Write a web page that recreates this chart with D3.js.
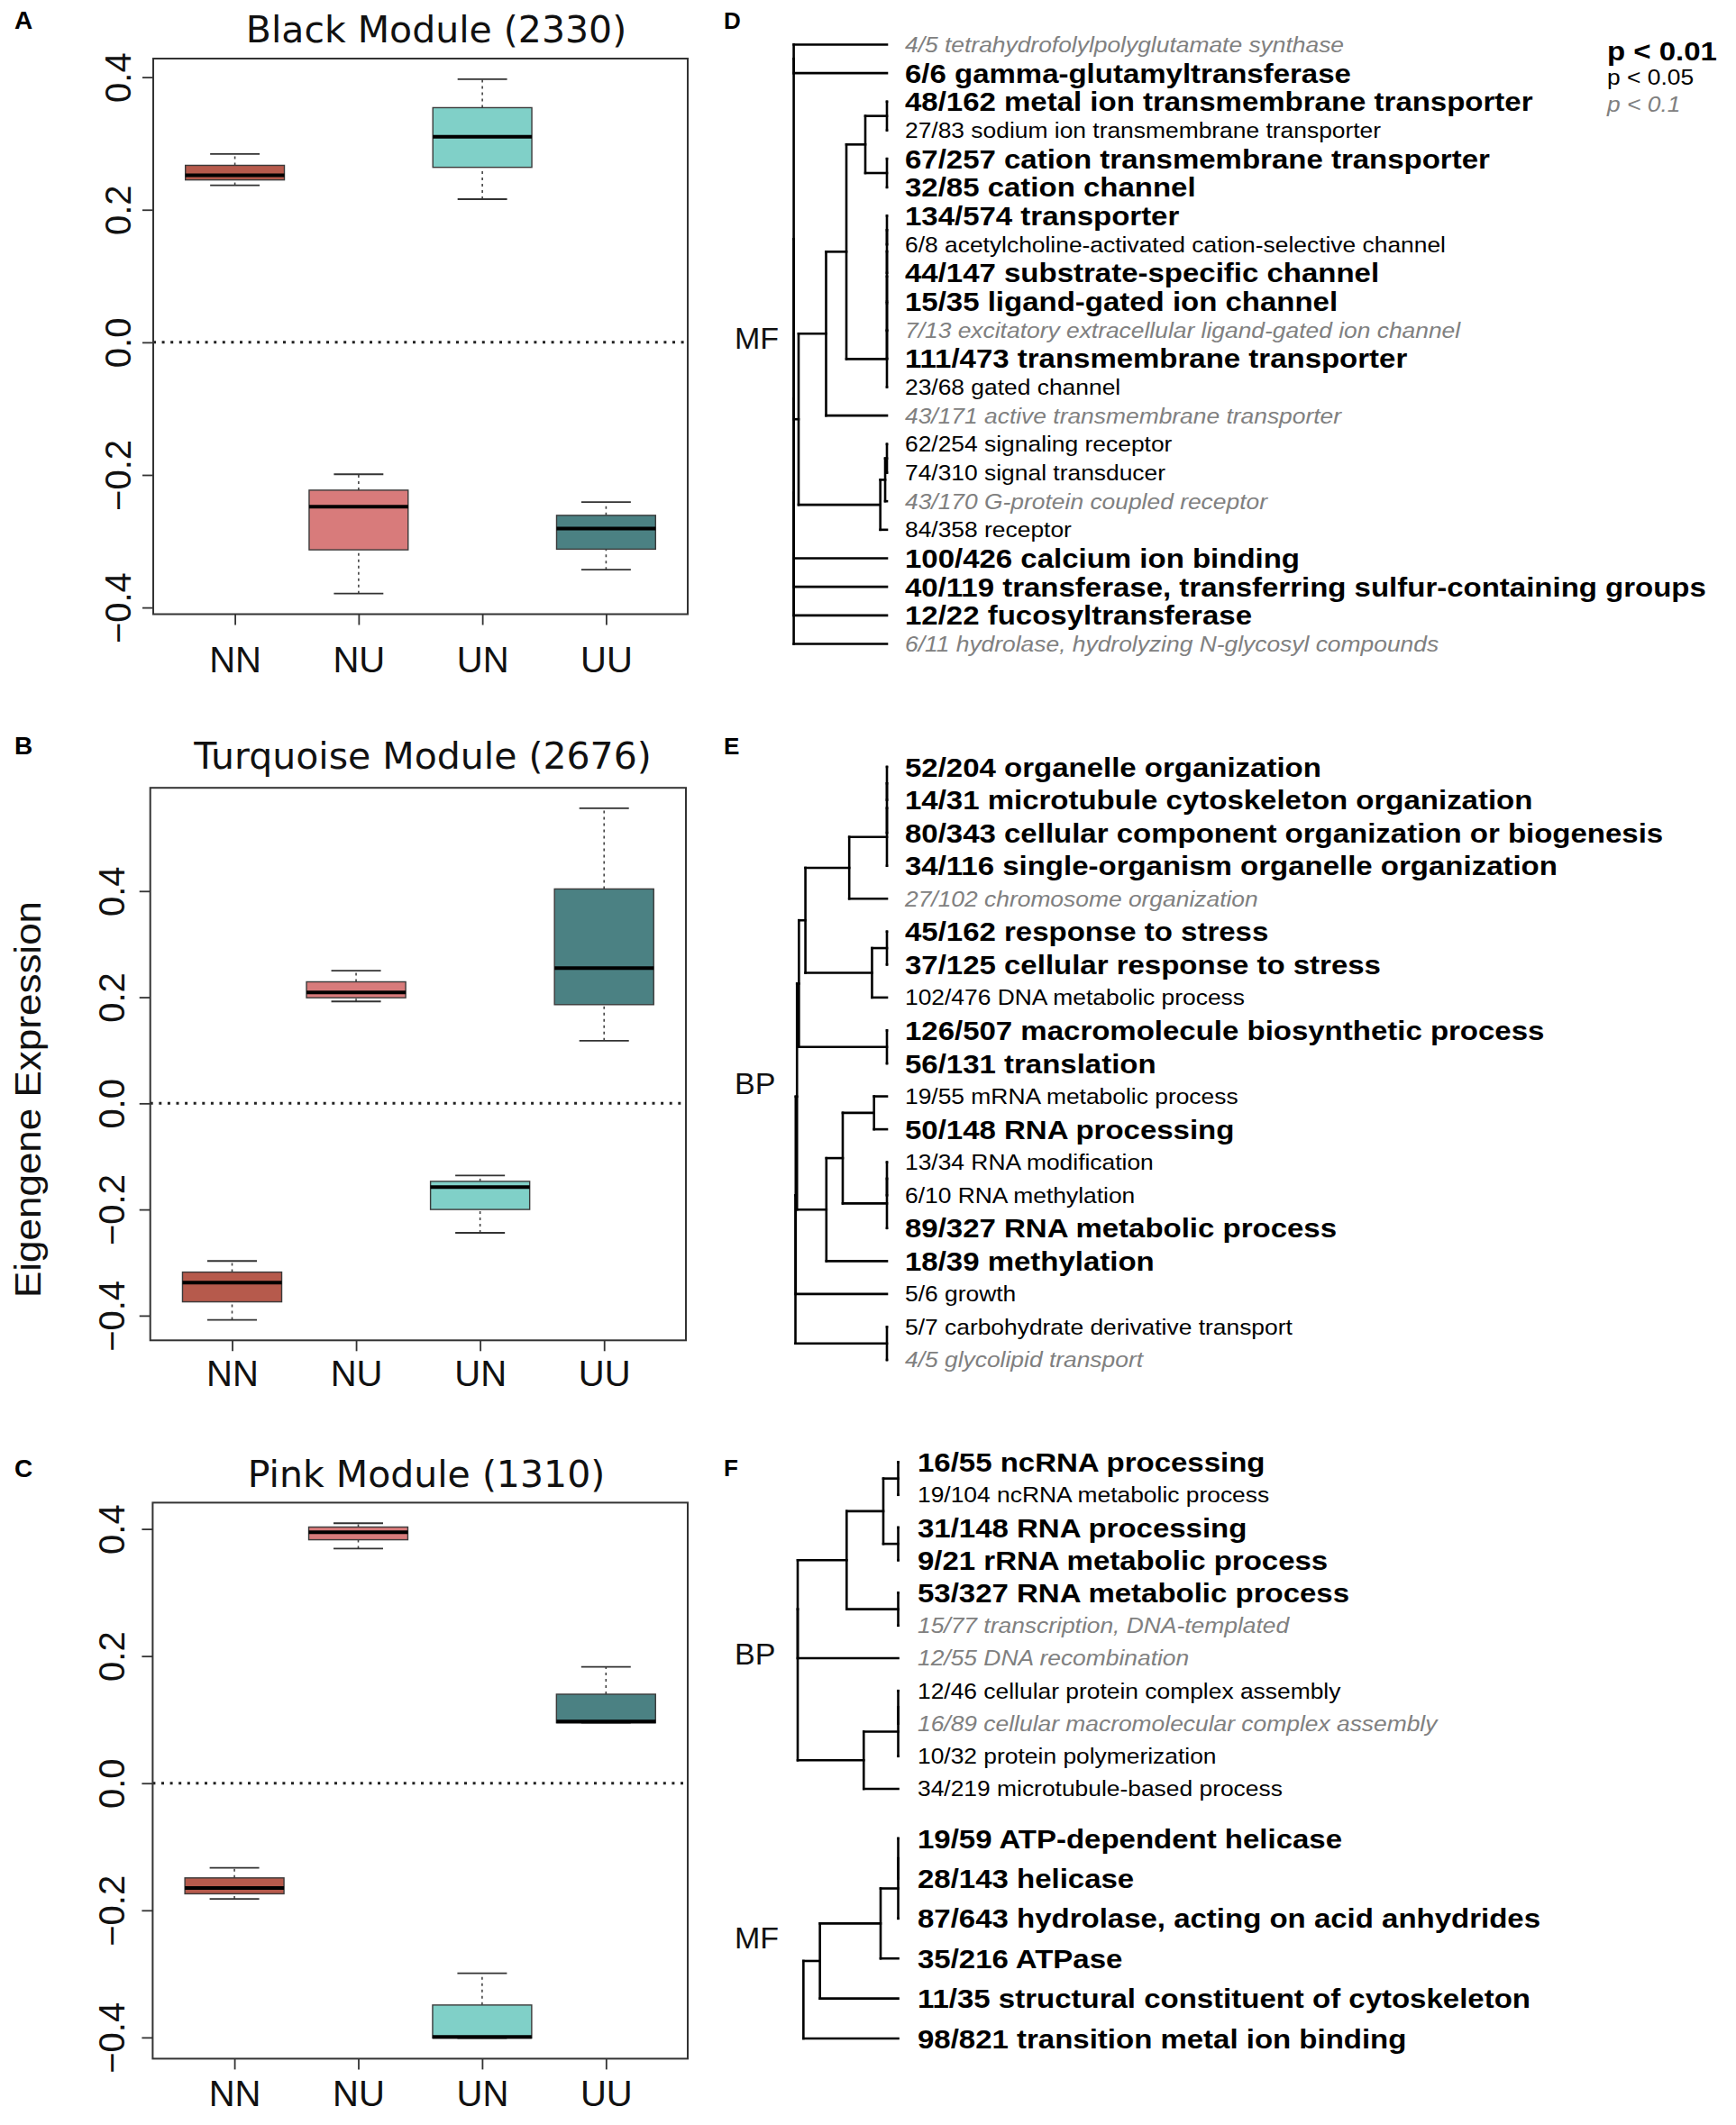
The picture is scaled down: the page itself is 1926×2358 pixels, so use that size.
<!DOCTYPE html>
<html><head><meta charset="utf-8">
<script src="https://cdn.jsdelivr.net/npm/d3@7"></script>
<style>body{margin:0;background:#fff} svg{display:block}</style>
</head><body>
<svg id="fig" width="1926" height="2358"></svg>
<script>
// ---------------- DATA ----------------
const groups = ["NN", "NU", "UN", "UU"];
const groupColors = ["#b65a4c", "#d87b7b", "#80d0c8", "#4b8183"];
// five-number summaries per group: [min, q1, median, q3, max]
const blackModule = [
  [0.237, 0.245, 0.252, 0.267, 0.284],
  [-0.379, -0.313, -0.248, -0.223, -0.199],
  [0.216, 0.264, 0.310, 0.354, 0.397],
  [-0.343, -0.312, -0.281, -0.261, -0.241]
];
const turquoiseModule = [
  [-0.408, -0.374, -0.338, -0.318, -0.297],
  [0.192, 0.199, 0.209, 0.229, 0.250],
  [-0.244, -0.200, -0.158, -0.147, -0.136],
  [0.118, 0.186, 0.255, 0.404, 0.556]
];
const pinkModule = [
  [-0.182, -0.174, -0.165, -0.149, -0.133],
  [0.369, 0.383, 0.395, 0.403, 0.409],
  [-0.401, -0.401, -0.399, -0.349, -0.299],
  [0.095, 0.095, 0.097, 0.140, 0.183]
];
const yTicks = [-0.4, -0.2, 0.0, 0.2, 0.4];
const moduleTitles = ["Black Module (2330)", "Turquoise Module (2676)", "Pink Module (1310)"];
const yAxisTitle = "Eigengene Expression";

// GO term dendrograms; significance class: 1 = p<0.01, 2 = p<0.05, 3 = p<0.1
const legendLabels = ["p < 0.01", "p < 0.05", "p < 0.1"];
const legendClass = [1, 2, 3];

const termsD = [
  "4/5 tetrahydrofolylpolyglutamate synthase", "6/6 gamma-glutamyltransferase",
  "48/162 metal ion transmembrane transporter", "27/83 sodium ion transmembrane transporter",
  "67/257 cation transmembrane transporter", "32/85 cation channel", "134/574 transporter",
  "6/8 acetylcholine-activated cation-selective channel", "44/147 substrate-specific channel",
  "15/35 ligand-gated ion channel", "7/13 excitatory extracellular ligand-gated ion channel",
  "111/473 transmembrane transporter", "23/68 gated channel", "43/171 active transmembrane transporter",
  "62/254 signaling receptor", "74/310 signal transducer", "43/170 G-protein coupled receptor",
  "84/358 receptor", "100/426 calcium ion binding",
  "40/119 transferase, transferring sulfur-containing groups", "12/22 fucosyltransferase",
  "6/11 hydrolase, hydrolyzing N-glycosyl compounds"
];
const sigD = [3,1,1,2,1,1,1,2,1,1,3,1,2,3,2,2,3,2,1,1,1,3];
// merge tree: [height, childA, childB]; leaves are term indices; height 0 = leaves, 1 = root
const treeD = [1, [1, [1, [1, [1, [1, 0, 1],
  [0.948,
    [0.653,
      [0.435,
        [0.232, [0, 2, 3], [0, 4, 5]],
        [0, [0, [0, [0, [0, [0, 6, 7], 8], 9], 10], 11], 12]],
      13],
    [0.071, [0.019, [0, 14, 15], 16], 17]]],
  18], 19], 20], 21];

const termsE = [
  "52/204 organelle organization", "14/31 microtubule cytoskeleton organization",
  "80/343 cellular component organization or biogenesis", "34/116 single-organism organelle organization",
  "27/102 chromosome organization", "45/162 response to stress", "37/125 cellular response to stress",
  "102/476 DNA metabolic process", "126/507 macromolecule biosynthetic process", "56/131 translation",
  "19/55 mRNA metabolic process", "50/148 RNA processing", "13/34 RNA modification",
  "6/10 RNA methylation", "89/327 RNA metabolic process", "18/39 methylation", "5/6 growth",
  "5/7 carbohydrate derivative transport", "4/5 glycolipid transport"
];
const sigE = [1,1,1,1,3,1,1,2,1,1,2,1,2,2,1,1,2,2,3];
const treeE = [1,
  [0.997,
    [0.983,
      [0.962,
        [0.891,
          [0.412, [0, [0, [0, 0, 1], 2], 3], 4],
          [0.163, [0, 5, 6], 7]],
        [0, 8, 9]],
      [0.662, [0.483, [0.141, 10, 11], [0, [0, 12, 13], 14]], 15]],
    16],
  [0, 17, 18]];

const termsFbp = [
  "16/55 ncRNA processing", "19/104 ncRNA metabolic process", "31/148 RNA processing",
  "9/21 rRNA metabolic process", "53/327 RNA metabolic process", "15/77 transcription, DNA-templated",
  "12/55 DNA recombination", "12/46 cellular protein complex assembly",
  "16/89 cellular macromolecular complex assembly", "10/32 protein polymerization",
  "34/219 microtubule-based process"
];
const sigFbp = [1,2,1,1,1,3,3,2,3,2,2];
const treeFbp = [1,
  [1, [0.513, [0.148, [0, 0, 1], [0, 2, 3]], [0, 4, 5]], 6],
  [0.343, [0, [0, 7, 8], 9], 10]];

const termsFmf = [
  "19/59 ATP-dependent helicase", "28/143 helicase", "87/643 hydrolase, acting on acid anhydrides",
  "35/216 ATPase", "11/35 structural constituent of cytoskeleton", "98/821 transition metal ion binding"
];
const sigFmf = [1,1,1,1,1,1];
const treeFmf = [0.943, [0.779, [0.175, [0, [0, 0, 1], 2], 3], 4], 5];

// ---------------- DRAWING ----------------
const svg = d3.select("#fig");
const SANS = "'Liberation Sans', Arial, Helvetica, sans-serif";
const TITLEF = "'DejaVu Sans', Verdana, sans-serif";

function panelLetter(txt, x, y, size) {
  svg.append("text").attr("x", x).attr("y", y).text(txt)
    .attr("font-family", SANS).attr("font-weight", "bold").attr("font-size", size).attr("fill", "#000");
}

function boxPanel(stats, title, cfg) {
  const g = svg.append("g");
  const lo = d3.min(stats, s => s[0]), hi = d3.max(stats, s => s[4]);
  const pad = (hi - lo) * 0.04;
  const y = d3.scaleLinear().domain([lo - pad, hi + pad]).range([cfg.bottom, cfg.top]);
  const x = d3.scaleLinear().domain([0.5 - 0.16, groups.length + 0.5 + 0.16]).range([cfg.left, cfg.right]);

  // title
  g.append("text").attr("x", cfg.titleX).attr("y", cfg.titleY).attr("text-anchor", "middle")
    .attr("font-family", TITLEF).attr("font-size", 41).attr("fill", "#111").text(title);

  // zero line
  g.append("line").attr("x1", x.range()[0]).attr("x2", x.range()[1]).attr("y1", y(0)).attr("y2", y(0))
    .attr("stroke", "#222").attr("stroke-width", 3).attr("stroke-dasharray", "3,6.6");

  const bw = 0.4, cw = 0.2;
  const items = g.selectAll("g.box").data(stats).join("g").attr("class", "box");
  // whiskers (dashed)
  items.append("line").attr("x1", (d, i) => x(i + 1)).attr("x2", (d, i) => x(i + 1))
    .attr("y1", d => y(d[3])).attr("y2", d => y(d[4]))
    .attr("stroke", "#444").attr("stroke-width", 1.6).attr("stroke-dasharray", "3,4");
  items.append("line").attr("x1", (d, i) => x(i + 1)).attr("x2", (d, i) => x(i + 1))
    .attr("y1", d => y(d[0])).attr("y2", d => y(d[1]))
    .attr("stroke", "#444").attr("stroke-width", 1.6).attr("stroke-dasharray", "3,4");
  // caps
  items.append("line").attr("x1", (d, i) => x(i + 1 - cw)).attr("x2", (d, i) => x(i + 1 + cw))
    .attr("y1", d => y(d[4])).attr("y2", d => y(d[4])).attr("stroke", "#333").attr("stroke-width", 1.8);
  items.append("line").attr("x1", (d, i) => x(i + 1 - cw)).attr("x2", (d, i) => x(i + 1 + cw))
    .attr("y1", d => y(d[0])).attr("y2", d => y(d[0])).attr("stroke", "#333").attr("stroke-width", 1.8);
  // box
  items.append("rect").attr("x", (d, i) => x(i + 1 - bw)).attr("width", (d, i) => x(i + 1 + bw) - x(i + 1 - bw))
    .attr("y", d => y(d[3])).attr("height", d => Math.max(0.5, y(d[1]) - y(d[3])))
    .attr("fill", (d, i) => groupColors[i]).attr("stroke", "#3a3a3a").attr("stroke-width", 1.4);
  // median
  items.append("line").attr("x1", (d, i) => x(i + 1 - bw)).attr("x2", (d, i) => x(i + 1 + bw))
    .attr("y1", d => y(d[2])).attr("y2", d => y(d[2])).attr("stroke", "#000").attr("stroke-width", 4);

  // frame
  g.append("rect").attr("x", x.range()[0]).attr("y", cfg.top)
    .attr("width", x.range()[1] - x.range()[0]).attr("height", cfg.bottom - cfg.top)
    .attr("fill", "none").attr("stroke", "#333").attr("stroke-width", 2);

  // y axis
  const fmt = d3.format(".1f");
  const ya = g.append("g").attr("transform", `translate(${x.range()[0]},0)`)
    .call(d3.axisLeft(y).tickValues(yTicks).tickFormat(fmt).tickSize(12));
  ya.select(".domain").remove();
  ya.selectAll(".tick line").attr("stroke", "#333").attr("stroke-width", 1.8);
  ya.selectAll(".tick text").attr("x", null).attr("dy", null)
    .attr("transform", `translate(${-cfg.yLabOff},0) rotate(-90)`)
    .attr("text-anchor", "middle").attr("font-family", SANS).attr("font-size", 40).attr("fill", "#111");

  // x axis
  const xa = g.append("g").attr("transform", `translate(0,${cfg.bottom})`)
    .call(d3.axisBottom(x).tickValues(d3.range(1, groups.length + 1)).tickFormat((d, i) => groups[i]).tickSize(12));
  xa.select(".domain").remove();
  xa.selectAll(".tick line").attr("stroke", "#333").attr("stroke-width", 1.8);
  xa.selectAll(".tick text").attr("y", cfg.labelY - cfg.bottom).attr("dy", null)
    .attr("font-family", SANS).attr("font-size", 40).attr("fill", "#111");
}

boxPanel(blackModule, moduleTitles[0],
  {left: 170, right: 763, top: 65, bottom: 681.5, titleX: 484, titleY: 46.5, labelY: 746, yLabOff: 25});
boxPanel(turquoiseModule, moduleTitles[1],
  {left: 166.7, right: 761, top: 874.2, bottom: 1487.3, titleX: 469, titleY: 852.5, labelY: 1537.6, yLabOff: 28.7});
boxPanel(pinkModule, moduleTitles[2],
  {left: 169.4, right: 763, top: 1667.4, bottom: 2284.4, titleX: 473, titleY: 1649.7, labelY: 2336.8, yLabOff: 31});

svg.append("text").attr("transform", "translate(45,1220) rotate(-90) scale(1.1,1)")
  .attr("text-anchor", "middle").attr("font-family", SANS).attr("font-size", 40).attr("fill", "#111")
  .text(yAxisTitle);

panelLetter("A", 16, 32, 28);
panelLetter("B", 16, 837, 28);
panelLetter("C", 16, 1639, 28);
panelLetter("D", 803, 32, 26);
panelLetter("E", 803, 837, 26);
panelLetter("F", 803, 1638, 26);

// ----- dendrogram text style by significance class -----
function styleText(sel, cls) {
  sel.attr("font-family", SANS)
    .attr("font-size", cls === 1 ? 30 : 24)
    .attr("font-weight", cls === 1 ? "bold" : "normal")
    .attr("font-style", cls === 3 ? "italic" : "normal")
    .attr("fill", cls === 3 ? "#808080" : "#000");
}

function drawTree(tree, terms, sig, cfg) {
  const g = svg.append("g");
  const row = d3.scaleLinear().domain([0, terms.length - 1]).range([cfg.y0, cfg.y1]);
  const hx = d3.scaleLinear().domain([0, 1]).range([cfg.leafX, cfg.rootX]);
  const root = d3.hierarchy(tree, d => Array.isArray(d) ? d.slice(1) : null);
  root.eachAfter(n => {
    if (n.children) { n.py = d3.mean(n.children, c => c.py); n.px = hx(n.data[0]); }
    else { n.py = row(n.data); n.px = cfg.leafX; }
  });
  const segs = [];
  root.each(n => {
    if (!n.children) return;
    const ys = n.children.map(c => c.py);
    segs.push([n.px, d3.min(ys), n.px, d3.max(ys)]);
    n.children.forEach(c => segs.push([n.px, c.py, c.px, c.py]));
  });
  g.selectAll("line").data(segs).join("line")
    .attr("x1", d => d[0]).attr("y1", d => d[1]).attr("x2", d => d[2]).attr("y2", d => d[3])
    .attr("stroke", "#000").attr("stroke-width", 2.6).attr("stroke-linecap", "square");
  g.selectAll("text").data(terms).join("text")
    .attr("transform", (d, i) => `translate(${cfg.textX},${row(i)}) scale(1.1,1)`)
    .attr("dy", "0.35em").text(d => d)
    .each(function (d, i) { styleText(d3.select(this), sig[i]); });
  if (cfg.group) {
    g.append("text").attr("x", 815).attr("y", cfg.groupY).attr("dy", "0.36em")
      .attr("font-family", SANS).attr("font-size", 34).attr("fill", "#111").text(cfg.group);
  }
}

drawTree(treeD, termsD, sigD, {leafX: 984, rootX: 880.6, textX: 1004, y0: 49.5, y1: 714.5, group: "MF", groupY: 375});
drawTree(treeE, termsE, sigE, {leafX: 984, rootX: 882.5, textX: 1004, y0: 851, y1: 1509, group: "BP", groupY: 1202});
drawTree(treeFbp, termsFbp, sigFbp, {leafX: 996.5, rootX: 885, textX: 1018, y0: 1622.5, y1: 1985, group: "BP", groupY: 1835});
drawTree(treeFmf, termsFmf, sigFmf, {leafX: 996.5, rootX: 885, textX: 1018, y0: 2040, y1: 2262, group: "MF", groupY: 2150});

// legend
const lg = svg.append("g");
lg.selectAll("text").data(legendLabels).join("text")
  .attr("transform", (d, i) => `translate(1783,${56.7 + i * 29.2}) scale(1.1,1)`)
  .attr("dy", "0.35em").text(d => d)
  .each(function (d, i) { styleText(d3.select(this), legendClass[i]); });
</script>
</body></html>
